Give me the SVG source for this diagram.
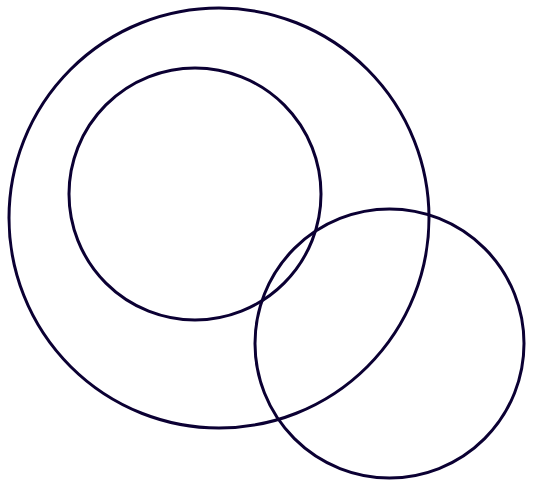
<svg xmlns="http://www.w3.org/2000/svg" width="534" height="487" viewBox="0 0 534 487">
<style>
.c{fill:none;stroke:#0b0033;stroke-width:3}
</style>
<rect width="534" height="487" fill="#ffffff"/>
<g id="outer"><circle class="c" cx="219" cy="218" r="210"/></g>
<g id="inner"><circle class="c" cx="195" cy="194" r="126"/></g>
<g id="right"><circle class="c" cx="389.5" cy="343.5" r="134.5"/></g>
</svg>
